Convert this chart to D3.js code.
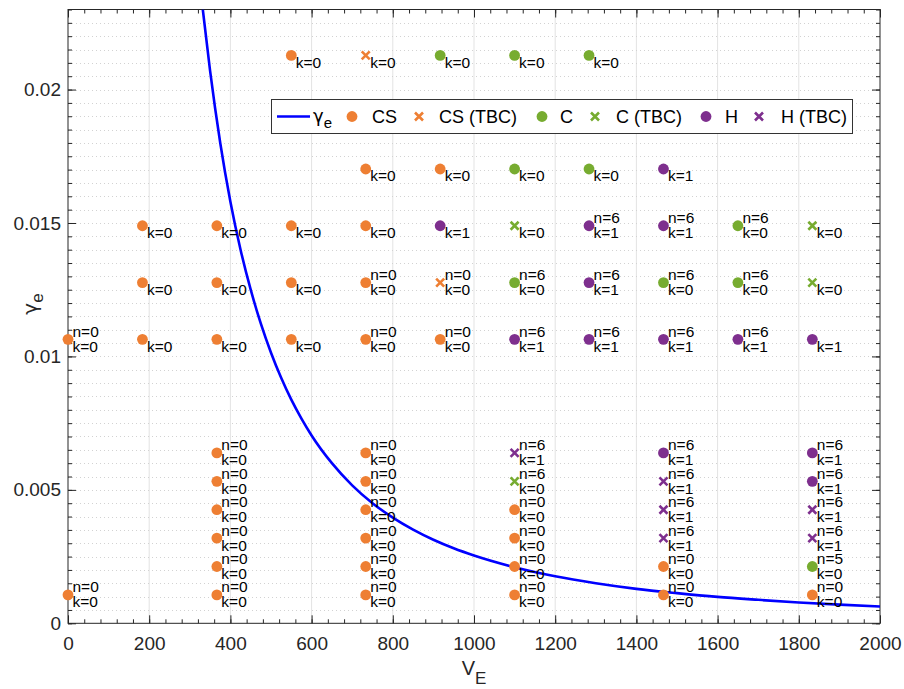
<!DOCTYPE html>
<html>
<head>
<meta charset="utf-8">
<script src="https://cdn.jsdelivr.net/npm/d3@7"></script>
<style>
  body { margin: 0; background: #fff; }
  svg { font-family: "Liberation Sans", Arial, Helvetica, sans-serif; }
</style>
</head>
<body>
<svg id="chart" width="904" height="689"></svg>
<script>
// gamma_e curve
var curveV = [332, 350, 375, 400, 425, 450, 475, 500, 525, 550, 575, 600, 650, 700, 750, 800, 850, 900, 950, 1000, 1100, 1200, 1300, 1400, 1500, 1600, 1700, 1800, 1900, 2000]
var curveGamma = [0.0230, 0.0207, 0.0180, 0.0158, 0.0140, 0.0125, 0.01123, 0.01014, 0.0092, 0.00838, 0.00767, 0.00704, 0.006, 0.00517, 0.0045, 0.00396, 0.00351, 0.00313, 0.00281, 0.00254, 0.0021, 0.00176, 0.0015, 0.00129, 0.00113, 0.00099, 0.00088, 0.00078, 0.0007, 0.00063]

// points: [V_E, gamma_e, n label, k label]
var csPoints = [
  [550, 0.02128, null, 0],
  [733.33, 0.017024, null, 0], [916.67, 0.017024, null, 0],
  [183.33, 0.014896, null, 0], [366.67, 0.014896, null, 0], [550, 0.014896, null, 0], [733.33, 0.014896, null, 0],
  [183.33, 0.012768, null, 0], [366.67, 0.012768, null, 0], [550, 0.012768, null, 0], [733.33, 0.012768, 0, 0],
  [0, 0.01064, 0, 0], [183.33, 0.01064, null, 0], [366.67, 0.01064, null, 0], [550, 0.01064, null, 0], [733.33, 0.01064, 0, 0], [916.67, 0.01064, 0, 0],
  [366.67, 0.006384, 0, 0], [733.33, 0.006384, 0, 0],
  [366.67, 0.00532, 0, 0], [733.33, 0.00532, 0, 0],
  [366.67, 0.004256, 0, 0], [733.33, 0.004256, 0, 0], [1100, 0.004256, 0, 0],
  [366.67, 0.003192, 0, 0], [733.33, 0.003192, 0, 0], [1100, 0.003192, 0, 0],
  [366.67, 0.002128, 0, 0], [733.33, 0.002128, 0, 0], [1100, 0.002128, 0, 0], [1466.67, 0.002128, 0, 0],
  [0, 0.001064, 0, 0], [366.67, 0.001064, 0, 0], [733.33, 0.001064, 0, 0], [1100, 0.001064, 0, 0], [1466.67, 0.001064, 0, 0], [1833.33, 0.001064, 0, 0]
]
var csTbcPoints = [
  [733.33, 0.02128, null, 0], [916.67, 0.012768, 0, 0]
]
var cPoints = [
  [916.67, 0.02128, null, 0], [1100, 0.02128, null, 0], [1283.33, 0.02128, null, 0],
  [1100, 0.017024, null, 0], [1283.33, 0.017024, null, 0],
  [1650, 0.014896, 6, 0],
  [1100, 0.012768, 6, 0], [1466.67, 0.012768, 6, 0], [1650, 0.012768, 6, 0],
  [1833.33, 0.002128, 5, 0]
]
var cTbcPoints = [
  [1100, 0.014896, null, 0], [1833.33, 0.014896, null, 0], [1833.33, 0.012768, null, 0], [1100, 0.00532, 6, 0]
]
var hPoints = [
  [1466.67, 0.017024, null, 1],
  [916.67, 0.014896, null, 1], [1283.33, 0.014896, 6, 1], [1466.67, 0.014896, 6, 1],
  [1283.33, 0.012768, 6, 1],
  [1100, 0.01064, 6, 1], [1283.33, 0.01064, 6, 1], [1466.67, 0.01064, 6, 1], [1650, 0.01064, 6, 1], [1833.33, 0.01064, null, 1],
  [1466.67, 0.006384, 6, 1], [1833.33, 0.006384, 6, 1], [1833.33, 0.00532, 6, 1]
]
var hTbcPoints = [
  [1100, 0.006384, 6, 1], [1466.67, 0.00532, 6, 1], [1466.67, 0.004256, 6, 1], [1466.67, 0.003192, 6, 1],
  [1833.33, 0.004256, 6, 1], [1833.33, 0.003192, 6, 1]
]

var orange = '#EE7F33', green = '#77AC30', purple = '#7E2F8E', axisColor = '#262626'

var series = [
  {name: 'CS', pts: csPoints, color: orange, marker: 'dot'},
  {name: 'CS (TBC)', pts: csTbcPoints, color: orange, marker: 'x'},
  {name: 'C', pts: cPoints, color: green, marker: 'dot'},
  {name: 'C (TBC)', pts: cTbcPoints, color: green, marker: 'x'},
  {name: 'H', pts: hPoints, color: purple, marker: 'dot'},
  {name: 'H (TBC)', pts: hTbcPoints, color: purple, marker: 'x'}
]

var plotLeft = 68, plotRight = 880, plotTop = 9.5, plotBottom = 623.3
var x = d3.scaleLinear().domain([0, 2000]).range([plotLeft, plotRight])
var y = d3.scaleLinear().domain([0, 0.023]).range([plotBottom, plotTop])

var svg = d3.select('#chart')

// grid
var grid = svg.append('g')
grid.selectAll('line.vg')
    .data(d3.range(200, 2000, 200))
    .join('line')
    .attr('x1', d => x(d)).attr('x2', d => x(d))
    .attr('y1', plotTop).attr('y2', plotBottom)
    .attr('stroke', '#e3e3e3').attr('stroke-width', 1)
grid.selectAll('line.hg')
    .data(d3.range(1, 46).map(i => i * 0.0005))
    .join('line')
    .attr('x1', plotLeft).attr('x2', plotRight)
    .attr('y1', d => Math.round(y(d)) + 0.5).attr('y2', d => Math.round(y(d)) + 0.5)
    .attr('stroke', '#d2d2d2').attr('stroke-width', 1)
    .attr('stroke-dasharray', '1,3')

// axes
var xMajor = d3.range(0, 2001, 200)
var xMinor = d3.range(0, 2001, 40)
var yMajor = [0, 0.005, 0.01, 0.015, 0.02]
var yMinor = d3.range(0, 47).map(i => i * 0.0005)

function styleAxis(g) {
  g.select('.domain').remove()
  g.selectAll('line').attr('stroke', axisColor)
  g.selectAll('text').attr('fill', axisColor).style('font-size', '19px').style('font-family', '"Liberation Sans", Arial, sans-serif')
}

svg.append('g').attr('transform', 'translate(0,' + plotBottom + ')')
   .call(d3.axisBottom(x).tickValues(xMinor).tickSize(-4).tickFormat(''))
   .call(styleAxis)
svg.append('g').attr('transform', 'translate(0,' + plotBottom + ')')
   .call(d3.axisBottom(x).tickValues(xMajor).tickSize(-8).tickPadding(13).tickFormat(d3.format('d')))
   .call(styleAxis)
svg.append('g').attr('transform', 'translate(0,' + plotTop + ')')
   .call(d3.axisTop(x).tickValues(xMinor).tickSize(-4).tickFormat(''))
   .call(styleAxis)
svg.append('g').attr('transform', 'translate(0,' + plotTop + ')')
   .call(d3.axisTop(x).tickValues(xMajor).tickSize(-8).tickFormat(''))
   .call(styleAxis)
svg.append('g').attr('transform', 'translate(' + plotLeft + ',0)')
   .call(d3.axisLeft(y).tickValues(yMinor).tickSize(-4).tickFormat(''))
   .call(styleAxis)
svg.append('g').attr('transform', 'translate(' + plotLeft + ',0)')
   .call(d3.axisLeft(y).tickValues(yMajor).tickSize(-8).tickPadding(7).tickFormat(d => String(+d.toFixed(4))))
   .call(styleAxis)
svg.append('g').attr('transform', 'translate(' + plotRight + ',0)')
   .call(d3.axisRight(y).tickValues(yMinor).tickSize(-4).tickFormat(''))
   .call(styleAxis)
svg.append('g').attr('transform', 'translate(' + plotRight + ',0)')
   .call(d3.axisRight(y).tickValues(yMajor).tickSize(-8).tickFormat(''))
   .call(styleAxis)

svg.append('rect')
   .attr('x', plotLeft).attr('y', plotTop)
   .attr('width', plotRight - plotLeft).attr('height', plotBottom - plotTop)
   .attr('fill', 'none').attr('stroke', axisColor).attr('stroke-width', 1)

// axis labels
var xl = svg.append('text').attr('x', 474).attr('y', 675)
   .attr('text-anchor', 'middle').attr('fill', axisColor).style('font-size', '20px')
xl.append('tspan').text('V')
xl.append('tspan').attr('dy', 9).style('font-size', '17px').text('E')

var yl = svg.append('text').attr('transform', 'translate(37,304) rotate(-90)')
   .attr('text-anchor', 'middle').attr('fill', axisColor).style('font-size', '20px')
yl.append('tspan').style('font-family', '"DejaVu Sans", sans-serif').text('γ')
yl.append('tspan').attr('dy', 6).style('font-size', '17px').text('e')

// curve
svg.append('clipPath').attr('id', 'clip')
   .append('rect').attr('x', plotLeft).attr('y', plotTop).attr('width', plotRight - plotLeft).attr('height', plotBottom - plotTop)

var line = d3.line().curve(d3.curveMonotoneX).x(d => x(d[0])).y(d => y(d[1]))
svg.append('path')
   .datum(d3.zip(curveV, curveGamma))
   .attr('clip-path', 'url(#clip)')
   .attr('d', line)
   .attr('fill', 'none')
   .attr('stroke', '#0000FF')
   .attr('stroke-width', 2.6)
   .attr('stroke-linejoin', 'round')

// markers
function drawMarker(g, kind, color) {
  if (kind == 'dot') {
    g.append('circle').attr('r', 5.4).attr('fill', color)
  } else {
    g.append('path').attr('d', 'M-4,-4L4,4M-4,4L4,-4')
      .attr('stroke', color).attr('stroke-width', 2.6).attr('fill', 'none')
  }
}

series.forEach(s => {
  svg.append('g').selectAll('g')
     .data(s.pts)
     .join('g')
     .attr('transform', d => 'translate(' + x(d[0]) + ',' + y(d[1]) + ')')
     .each(function () { drawMarker(d3.select(this), s.marker, s.color) })
})

// point labels
var labels = svg.append('g').style('font-size', '15.5px').attr('fill', '#000')
series.forEach(s => {
  s.pts.forEach(d => {
    var px = x(d[0]) + 4.5, py = y(d[1])
    if (d[2] !== null) {
      labels.append('text').attr('x', px).attr('y', py - 2.5).text('n=' + d[2])
    }
    labels.append('text').attr('x', px).attr('y', py + 12.5).text('k=' + d[3])
  })
})

// legend
var legend = svg.append('g')
legend.append('rect')
   .attr('x', 271.5).attr('y', 99.5).attr('width', 581).attr('height', 34)
   .attr('fill', '#fff').attr('stroke', '#333').attr('stroke-width', 1)

var legY = 116.5
legend.append('line')
   .attr('x1', 277).attr('x2', 310).attr('y1', legY).attr('y2', legY)
   .attr('stroke', '#0000FF').attr('stroke-width', 2.6)
var lg = legend.append('text').attr('x', 313).attr('y', legY + 5).style('font-size', '18px')
lg.append('tspan').style('font-family', '"DejaVu Sans", sans-serif').text('γ')
lg.append('tspan').attr('dy', 6).style('font-size', '15px').text('e')

var legMarkerX = [352, 419, 542, 595, 706, 759]
var legTextX = [372, 439, 560, 616, 725, 781]
series.forEach((s, i) => {
  var g = legend.append('g').attr('transform', 'translate(' + legMarkerX[i] + ',' + legY + ')')
  drawMarker(g, s.marker, s.color)
  legend.append('text').attr('x', legTextX[i]).attr('y', legY + 6.5)
     .style('font-size', '18px').attr('fill', '#000').text(s.name)
})
</script>
</body>
</html>
